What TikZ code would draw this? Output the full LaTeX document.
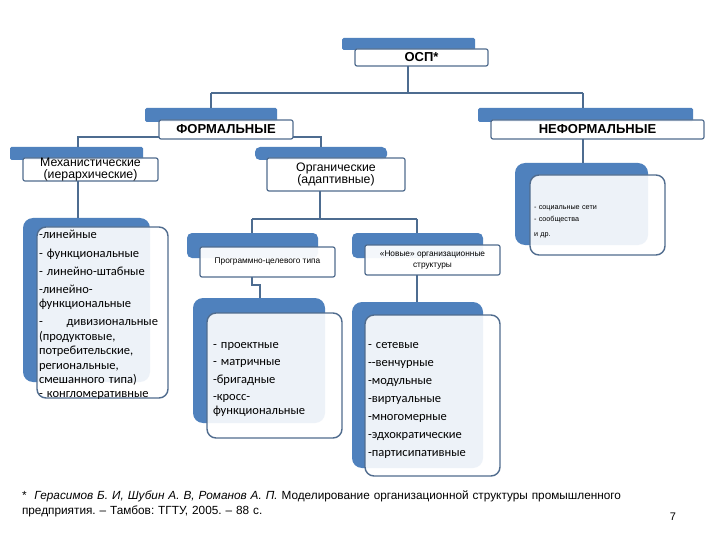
\documentclass[tikz,border=0pt]{standalone}
\usepackage{fontspec}
\setmainfont{Liberation Sans}
\newfontfamily\calfont{Carlito}
\definecolor{barblue}{HTML}{4F81BD}
\definecolor{edgecol}{HTML}{506C8E}
\definecolor{wirecol}{HTML}{4D6C90}
\frenchspacing
\begin{document}
\begin{tikzpicture}[x=1pt,y=-1pt,
  nwplace/.style={anchor=north west, inner sep=0pt, outer sep=0pt},
  bluebar/.style={nwplace, fill=barblue, rounded corners=1.5pt},
  midbar/.style={nwplace, fill=barblue, rounded corners=5pt},
  listbar/.style={nwplace, fill=barblue, rounded corners=10pt},
  hbox/.style={nwplace, draw=edgecol, line width=1.2pt, fill=white, fill opacity=0.94, text opacity=1, rounded corners=2pt, align=center},
  lbox/.style={nwplace, draw=edgecol, line width=1.4pt, fill=white, fill opacity=0.9, rounded corners=9pt},
  wire/.style={draw=wirecol, line width=1.4pt},
  headfont/.style={font=\bfseries\fontsize{13}{15}\selectfont},
  midfont/.style={font=\fontsize{12.3}{12}\selectfont},
  smallfont/.style={font=\fontsize{8.3}{11}\selectfont},
  listtxt/.style={anchor=base west, inner sep=0pt, outer sep=0pt, align=left, font=\calfont\fontsize{12.5}{14.5}\selectfont}
]
\useasboundingbox (0,0) rectangle (720,540);
\fill[white] (0,0) rectangle (720,540);

% junction coordinates
\coordinate (j0) at (408,93);
\coordinate (jl) at (211,93);
\coordinate (jr) at (583,93);
\coordinate (jm) at (78,137);
\coordinate (jo) at (321,137);
\coordinate (jo2) at (320,219);
\coordinate (jp) at (252,219);
\coordinate (jn) at (417,219);
\coordinate (jq) at (252,285);
\coordinate (jq2) at (260,285);

% ---- bars (blue backgrounds)
\node[bluebar, minimum width=133, minimum height=12] (ospbar) at (342,38) {};
\node[bluebar, minimum width=132, minimum height=14] (fbar) at (145,108) {};
\node[bluebar, minimum width=215, minimum height=14] (nbar) at (478,108) {};
\node[bluebar, minimum width=133, minimum height=13] (mbar) at (10,147) {};
\node[midbar, minimum width=132, minimum height=13] (obar) at (255,147) {};
\node[midbar, minimum width=131, minimum height=25] (pbar) at (187,233) {};
\node[midbar, minimum width=131, minimum height=25] (nwbar) at (352,233) {};
\node[listbar, minimum width=127, minimum height=164] (llbar) at (23,218) {};
\node[listbar, minimum width=133, minimum height=82] (ilbar) at (515,163) {};
\node[listbar, minimum width=132, minimum height=125] (plbar) at (193,298) {};
\node[listbar, minimum width=131, minimum height=166] (nlbar) at (352,302) {};

% ---- header boxes
\node[hbox, headfont, minimum width=133, minimum height=17] (osp) at (355,49) {ОСП*};
\node[hbox, headfont, minimum width=134, minimum height=19] (form) at (159,120) {ФОРМАЛЬНЫЕ};
\node[hbox, headfont, minimum width=213, minimum height=19] (nform) at (491,120) {НЕФОРМАЛЬНЫЕ};
\node[hbox, midfont, minimum width=135, minimum height=19] (mech) at (23,158) {Механистические\\(иерархические)};
\node[hbox, midfont, minimum width=138, minimum height=33] (org) at (267,158) {Органические\\(адаптивные)};
\node[hbox, smallfont, minimum width=135, minimum height=30] (prog) at (200,247) {Программно-целевого типа};
\node[hbox, smallfont, minimum width=135, minimum height=30] (newh) at (365,245) {«Новые» организационные\\структуры};

% ---- connectors
\draw[wire] (osp.south -| j0) -- (j0);
\draw[wire] (jl) -- (jr);
\draw[wire] (jl) -- (jl |- fbar.north);
\draw[wire] (jr) -- (jr |- nbar.north);
\draw[wire] (form.west |- jm) -- (jm) -- (jm |- mbar.north);
\draw[wire] (form.east |- jo) -- (jo) -- (jo |- obar.north);
\draw[wire] (nform.south -| jr) -- (jr |- ilbar.north);
\draw[wire] (mech.south -| jm) -- (jm |- llbar.north);
\draw[wire] (org.south -| jo2) -- (jo2);
\draw[wire] (jp) -- (jn);
\draw[wire] (jp) -- (jp |- pbar.north);
\draw[wire] (jn) -- (jn |- nwbar.north);
\draw[wire] (prog.south -| jq) -- (jq) -- (jq2) -- (jq2 |- plbar.north);
\draw[wire] (newh.south -| jn) -- (jn |- nlbar.north);

% ---- list boxes
\node[lbox, minimum width=131, minimum height=171] (llbox) at (37,227) {};
\node[lbox, minimum width=135, minimum height=80] (ilbox) at (530,175) {};
\node[lbox, minimum width=135, minimum height=125] (plbox) at (207,313) {};
\node[lbox, minimum width=135, minimum height=161] (nlbox) at (365,315) {};

% ---- list texts
\node[listtxt, text width=119pt] (lltext) at (39,238) {-линейные\\[5pt]
- функциональные\\[3.5pt]
- линейно-штабные\\[3pt]
-линейно-\\
функциональные\\[3.5pt]
-\hfill дивизиональные\\
(продуктовые,\\
потребительские,\\
региональные,\\
смешанного типа)\\[-1pt]
- конгломеративные};

\node[listtxt, text width=125pt, font=\fontsize{7.2}{12}\selectfont] (iltext) at (534,209.5) {- социальные сети\\
- сообщества\\[3pt]
и др.};

\node[listtxt, text width=125pt] (pltext) at (213,348) {- проектные\\[2.5pt]
- матричные\\[3.5pt]
-бригадные\\[2.5pt]
-кросс-\\
функциональные};

\node[listtxt, text width=125pt] (nltext) at (368,348) {- сетевые\\[3.5pt]
--венчурные\\[3.5pt]
-модульные\\[3.5pt]
-виртуальные\\[3.5pt]
-многомерные\\[3.5pt]
-эдхократические\\[3.5pt]
-партисипативные};

% ---- footnote
\node[listtxt, text width=690pt, font=\fontsize{11.8}{15}\selectfont] (foot) at (22,499) {*\ \ \textit{Герасимов Б. И, Шубин А. В, Романов А. П.} Моделирование организационной структуры промышленного\\
предприятия. – Тамбов: ТГТУ, 2005. – 88 с.};
\node[anchor=base, inner sep=0pt, font=\fontsize{11}{13}\selectfont] (pagenum) at (673,520) {7};
\end{tikzpicture}
\end{document}
